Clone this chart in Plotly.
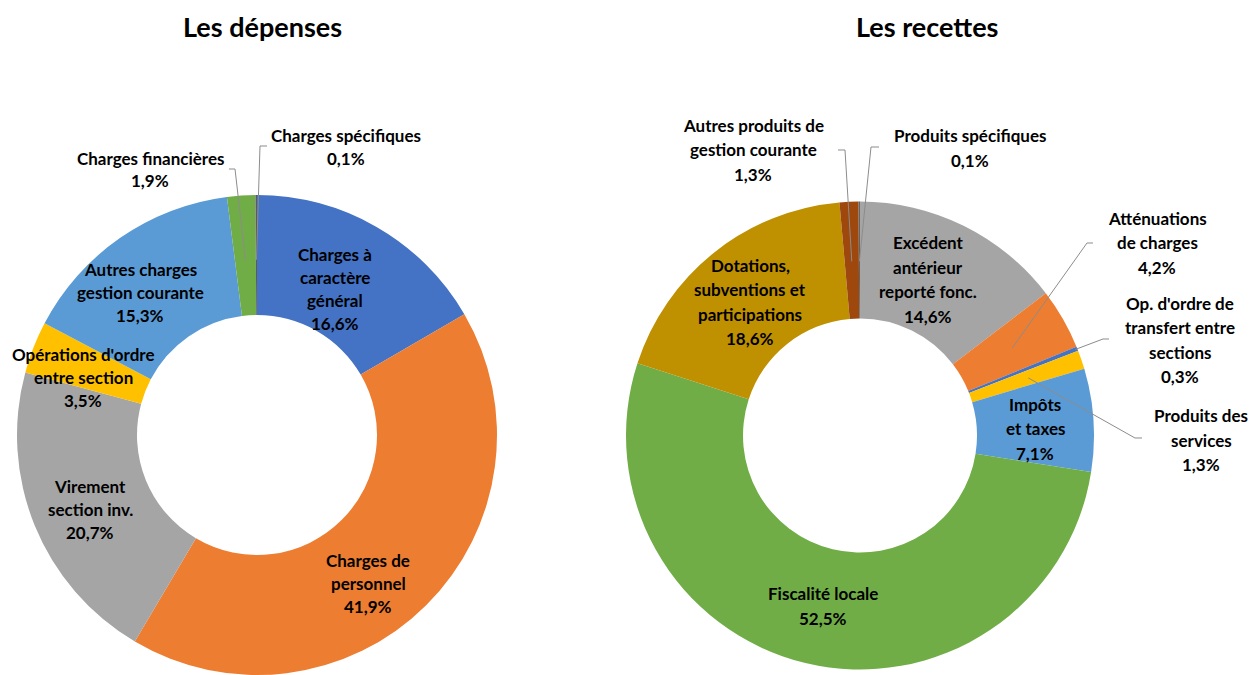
import math
import plotly.graph_objects as go

W, H = 1260, 675
OFF = 8  # page body margin in the browser

# ---------------- data ----------------
dep_labels = ["Charges à caractère général", "Charges de personnel", "Virement section inv.",
              "Opérations d'ordre entre section", "Autres charges gestion courante",
              "Charges financières", "Charges spécifiques"]
dep_values = [16.6, 41.9, 20.7, 3.5, 15.3, 1.9, 0.1]
dep_colors = ["#4472C4", "#ED7D31", "#A5A5A5", "#FFC000", "#5B9BD5", "#70AD47", "#5E5A5A"]
dep_text = [["Charges à", "caractère", "général"], ["Charges de", "personnel"],
            ["Virement", "section inv."], ["Opérations d'ordre", "entre section"],
            ["Autres charges", "gestion courante"], ["Charges financières"], ["Charges spécifiques"]]

rec_labels = ["Excédent antérieur reporté fonc.", "Atténuations de charges",
              "Op. d'ordre de transfert entre sections", "Produits des services",
              "Impôts et taxes", "Fiscalité locale", "Dotations, subventions et participations",
              "Autres produits de gestion courante", "Produits spécifiques"]
rec_values = [14.6, 4.2, 0.3, 1.3, 7.1, 52.5, 18.6, 1.3, 0.1]
rec_colors = ["#A5A5A5", "#ED7D31", "#4472C4", "#FFC000", "#5B9BD5", "#70AD47", "#BF9000",
              "#9E480E", "#636363"]
rec_text = [["Excédent", "antérieur", "reporté fonc."], ["Atténuations", "de charges"],
            ["Op. d'ordre de", "transfert entre", "sections"], ["Produits des", "services"],
            ["Impôts", "et taxes"], ["Fiscalité locale"], ["Dotations,", "subventions et", "participations"],
            ["Autres produits de", "gestion courante"], ["Produits spécifiques"]]

titles = ["Les dépenses", "Les recettes"]

# ---------------- layout constants (screen pixels) ----------------
LC = (257, 435); LR = 240
RC = (860, 435.5); RR = 234
HOLE = 0.5

# label centres (px) and line spacing
dep_pos = [(335, 289), (368, 583), (90, 509), (83, 377), (140, 292), (150, 169.5), (346, 147)]
rec_pos = [(928, 279.5), (1157, 243), (1180, 340), (1201, 440), (1035, 429), (823, 606),
           (750, 302), (753, 150), (970, 148)]
# leader lines: (slice index, anchor radius fraction, elbow px, end px)
dep_leaders = [(5, 0.73, (235, 169), (229, 169)), (6, 0.73, (260, 146), (267, 146))]
rec_leaders = [(7, 0.745, (845, 150), (838, 150)), (8, 0.745, (871, 147), (879, 147)),
               (1, 0.75, (1087, 243), (1093, 243)), (2, 0.99, (1103, 339), (1109, 339)),
               (3, 0.76, (1135, 438), (1142, 438))]

FONT = "Lato"
LSIZE = 17
TSIZE = 27


def px(x, y):
    return (x - OFF) / W, 1 - (y - OFF) / H


def pct(v):
    return ("%.1f%%" % v).replace(".", ",")


def domain(c, r):
    return dict(x=[(c[0] - OFF - r) / W, (c[0] - OFF + r) / W],
                y=[1 - (c[1] - OFF + r) / H, 1 - (c[1] - OFF - r) / H])


fig = go.Figure()
fig.add_trace(go.Pie(labels=dep_labels, values=dep_values, hole=HOLE, sort=False,
                     direction="clockwise", rotation=0, textinfo="none",
                     marker=dict(colors=dep_colors, line=dict(width=0)),
                     domain=domain(LC, LR), showlegend=False))
fig.add_trace(go.Pie(labels=rec_labels, values=rec_values, hole=HOLE, sort=False,
                     direction="clockwise", rotation=0, textinfo="none",
                     marker=dict(colors=rec_colors, line=dict(width=0)),
                     domain=domain(RC, RR), showlegend=False))

annotations = []
shapes = []


def add_label(lines, pos, spacing, size=LSIZE):
    n = len(lines)
    for i, t in enumerate(lines):
        y = pos[1] + (i - (n - 1) / 2) * spacing
        xp, yp = px(pos[0], y)
        annotations.append(dict(x=xp, y=yp, xref="paper", yref="paper", text="<b>%s</b>" % t,
                                showarrow=False, xanchor="center", yanchor="middle",
                                font=dict(family=FONT, size=size, color="#000000")))


for vals, texts, poss, sp in [(dep_values, dep_text, dep_pos, 23), (rec_values, rec_text, rec_pos, 24.5)]:
    for v, t, p in zip(vals, texts, poss):
        add_label(t + [pct(v)], p, sp)


def mid_angle(vals, i):
    tot = sum(vals)
    start = sum(vals[:i])
    return (start + vals[i] / 2) / tot * 2 * math.pi


for vals, leaders, c, r in [(dep_values, dep_leaders, LC, LR), (rec_values, rec_leaders, RC, RR)]:
    for i, rf, elbow, end in leaders:
        a = mid_angle(vals, i)
        ax = c[0] + rf * r * math.sin(a)
        ay = c[1] - rf * r * math.cos(a)
        p0 = px(ax, ay); p1 = px(*elbow); p2 = px(*end)
        shapes.append(dict(type="path", xref="paper", yref="paper",
                           path="M %f %f L %f %f L %f %f" % (p0[0], p0[1], p1[0], p1[1], p2[0], p2[1]),
                           line=dict(color="#8C8C8C", width=1)))

for t, x in zip(titles, [262, 927]):
    xp, yp = px(x, 27)
    annotations.append(dict(x=xp, y=yp, xref="paper", yref="paper", text="<b>%s</b>" % t,
                            showarrow=False, xanchor="center", yanchor="middle",
                            font=dict(family=FONT, size=TSIZE, color="#000000")))

fig.update_layout(width=W, height=H, margin=dict(l=0, r=0, t=0, b=0),
                  paper_bgcolor="white", plot_bgcolor="white",
                  annotations=annotations, shapes=shapes)

fig.write_html("out.html")
